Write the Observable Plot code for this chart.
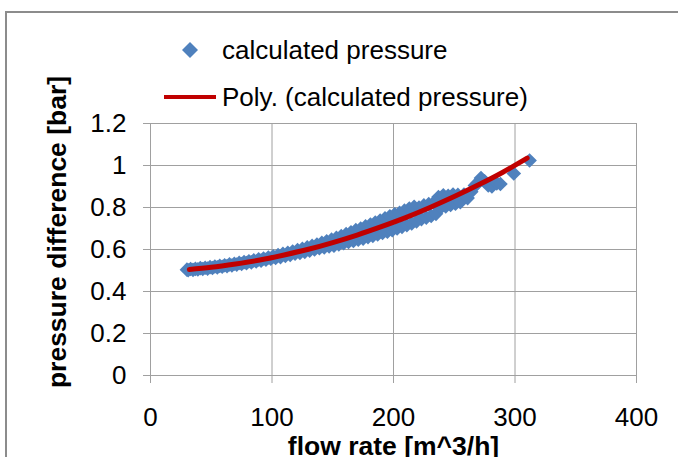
<!DOCTYPE html>
<html><head><meta charset="utf-8">
<script src="https://cdn.jsdelivr.net/npm/d3@7"></script>
<script src="https://cdn.jsdelivr.net/npm/@observablehq/plot@0.6"></script>
<style>
html,body{margin:0;padding:0;background:#fff;}
#wrap{position:relative;width:678px;height:457px;overflow:hidden;font-family:"Liberation Sans",Arial,sans-serif;}
#frame{position:absolute;left:5px;top:11px;width:720px;height:520px;border-left:2px solid #8c8c8c;border-top:2px solid #8c8c8c;box-sizing:border-box;}
#chart{position:absolute;left:0;top:0;}
#legend{position:absolute;left:0;top:0;}
</style></head><body>
<div id="wrap"><div id="frame"></div><div id="chart"></div><svg id="legend" width="678" height="130"></svg></div>
<script>
// ---- data ----
const flowRate = [30,31,33,35,37,39,41,43,45,47,49,51,53,55,57,59,61,63,65,67,69,71,73,75,77,79,81,83,85,87,89,91,93,95,97,99,
  101,103,105,107,109,111,113,115,117,119,121,123,125,127,129,131,133,135,137,139,141,143,145,147,149,
  151,153,155,157,159,161,163,165,167,169,171,173,175,177,179,181,183,185,187,189,191,193,195,197,199,
  201,203,205,207,209,211,213,215,217,219,221,223,225,227,229,231,233,235,237,239,241,243,245,247,249,
  251,253,255,258,261,264,267,269,272,275,278,281,285,288,299,312];
const pressure = [0.504,0.501,0.507,0.503,0.508,0.505,0.511,0.507,0.513,0.509,0.516,0.512,0.519,0.515,0.522,0.518,0.525,0.521,0.529,0.524,0.532,0.528,0.536,0.531,0.540,0.535,0.544,0.539,0.548,0.543,0.553,0.547,0.557,0.551,0.562,0.556,
  0.567,0.560,0.573,0.564,0.579,0.569,0.584,0.574,0.590,0.580,0.597,0.584,0.603,0.589,0.610,0.595,0.617,0.600,0.624,0.606,0.632,0.610,0.639,0.615,0.647,
  0.618,0.655,0.624,0.664,0.630,0.673,0.636,0.682,0.641,0.692,0.647,0.700,0.652,0.710,0.659,0.719,0.665,0.728,0.672,0.738,0.679,0.748,0.685,0.758,0.692,
  0.768,0.700,0.775,0.708,0.785,0.716,0.795,0.724,0.803,0.734,0.800,0.745,0.810,0.752,0.816,0.760,0.822,0.770,0.850,0.800,0.858,0.805,0.855,0.812,0.862,
  0.818,0.860,0.825,0.862,0.845,0.875,0.905,0.914,0.940,0.925,0.905,0.900,0.915,0.912,0.962,1.024];
const trendFlow = [32,50,70,90,110,130,150,170,190,210,230,250,270,290,310];
const trendPressure = [0.505,0.515,0.531,0.550,0.574,0.601,0.633,0.669,0.709,0.752,0.800,0.852,0.908,0.968,1.035];
const xTicks = [0,100,200,300,400];
const xTickLabels = ["0","100","200","300","400"];
const yTicks = [0,0.2,0.4,0.6,0.8,1,1.2];
const yTickLabels = ["0","0.2","0.4","0.6","0.8","1","1.2"];
const seriesName = "calculated pressure";
const trendName = "Poly. (calculated pressure)";
const xTitle = "flow rate [m^3/h]";
const yTitle = "pressure difference [bar]";

const points = flowRate.map((f, i) => ({flow: f, pressure: pressure[i]}));
const trend = trendFlow.map((f, i) => ({flow: f, pressure: trendPressure[i]}));

const blue = "#4F81BD", red = "#C00000", grid = "#a0a0a0";

const chart = Plot.plot({
  width: 678, height: 457,
  marginLeft: 150, marginRight: 42, marginTop: 123, marginBottom: 82,
  x: {domain: [0, 400]},
  y: {domain: [0, 1.2]},
  style: {fontFamily: '"Liberation Sans", Arial, sans-serif', fontSize: "26px", background: "transparent", overflow: "visible", color: "#000"},
  marks: [
    Plot.gridX(xTicks.slice(1), {stroke: grid, strokeOpacity: 1}),
    Plot.gridY(yTicks.slice(1), {stroke: grid, strokeOpacity: 1}),
    Plot.ruleX([0], {stroke: grid}),
    Plot.ruleY([0], {stroke: grid}),
    Plot.axisX(xTicks, {tickSize: 8, tickPadding: 24, stroke: grid, fill: "#000", label: null, fontSize: 26,
      tickFormat: d => xTickLabels[xTicks.indexOf(d)]}),
    Plot.axisY(yTicks, {tickSize: 7, tickPadding: 17, stroke: grid, fill: "#000", label: null, fontSize: 26,
      tickFormat: d => yTickLabels[yTicks.indexOf(d)]}),
    Plot.dot(points, {x: "flow", y: "pressure", symbol: "diamond2", r: 6.6, fill: blue, stroke: null}),
    Plot.line(trend, {x: "flow", y: "pressure", stroke: red, strokeWidth: 5, curve: "natural"}),
    Plot.text([yTitle], {frameAnchor: "left", textAnchor: "middle", dx: -92.6, dy: -17.5, rotate: -90, fontWeight: "bold", fontSize: 26.5, fill: "#000"}),
    Plot.text([xTitle], {frameAnchor: "bottom", textAnchor: "middle", lineAnchor: "top", dy: 61, fontWeight: "bold", fontSize: 26.5, fill: "#000"})
  ]
});
document.getElementById("chart").appendChild(chart);

// legend
const lg = d3.select("#legend");
lg.append("polygon").attr("points", "190,42 198,50 190,58 182,50").attr("fill", blue);
lg.append("text").attr("x", 222).attr("y", 50).attr("dy", "0.35em").attr("font-size", 26)
  .attr("font-family", '"Liberation Sans", Arial, sans-serif').text(seriesName);
lg.append("line").attr("x1", 164).attr("x2", 216).attr("y1", 97).attr("y2", 97).attr("stroke", red).attr("stroke-width", 4);
lg.append("text").attr("x", 222).attr("y", 97).attr("dy", "0.35em").attr("font-size", 26)
  .attr("font-family", '"Liberation Sans", Arial, sans-serif').text(trendName);
</script>
</body></html>
